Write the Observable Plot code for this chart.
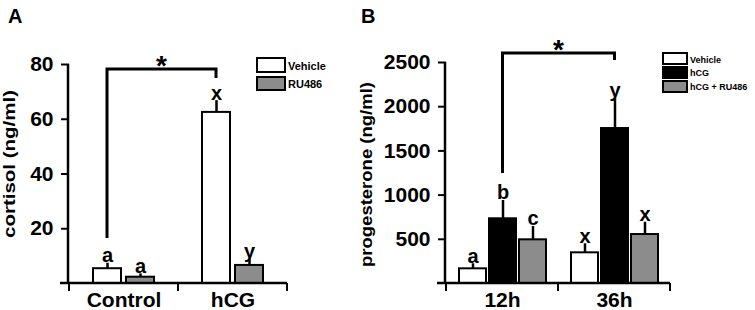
<!DOCTYPE html>
<html><head><meta charset="utf-8">
<script src="https://cdn.jsdelivr.net/npm/d3@7"></script>
<script src="https://cdn.jsdelivr.net/npm/@observablehq/plot@0.6"></script>
<style>
html,body{margin:0;padding:0;background:#fff;}
#wrap{position:relative;width:755px;height:310px;overflow:hidden;}
#wrap svg{position:absolute;top:0;overflow:visible;}
</style></head><body><div id="wrap"></div>
<script>
// ---------- Panel A data ----------
const groupsA = ["Control", "hCG"];
const seriesA = ["Vehicle", "RU486"];
const cortisolMean = [[5.4, 2.3], [62.5, 6.6]];   // [group][series]
const cortisolErr  = [[2.0, 1.2], [4.3, 2.4]];
const lettersA     = [["a", "a"], ["x", "y"]];
const yTicksA      = [20, 40, 60, 80];
const bracketA     = {left: ["Control", "Vehicle"], right: ["hCG", "Vehicle"], top: 78.2, leftEnd: 16.4, rightEnd: 74.9};

// ---------- Panel B data ----------
const groupsB = ["12h", "36h"];
const seriesB = ["Vehicle", "hCG", "hCG + RU486"];
const progMean = [[166, 732, 494], [347, 1753, 554]];
const progErr  = [[57, 207, 151], [102, 340, 139]];
const lettersB = [["a", "b", "c"], ["x", "y", "x"]];
const yTicksB  = [500, 1000, 1500, 2000, 2500];
const bracketB = {left: ["12h", "hCG"], right: ["36h", "hCG"], top: 2602, leftEnd: 1244, rightEnd: 2523};

const FONT = '"Liberation Sans", Arial, Helvetica, sans-serif';

function rows(groups, series, mean, err, letters) {
  const out = [];
  groups.forEach((g, i) => series.forEach((s, j) =>
    out.push({group: g, series: s, mean: mean[i][j], err: err[i][j], letter: letters[i][j]})));
  return out;
}

function makePanel(cfg) {
  const data = rows(cfg.groups, cfg.series, cfg.mean, cfg.err, cfg.letters);
  const plot = Plot.plot({
    width: cfg.width, height: 310,
    marginLeft: cfg.marginLeft, marginRight: cfg.marginRight, marginTop: cfg.marginTop, marginBottom: 27,
    style: {fontFamily: FONT, background: "transparent", overflow: "visible", color: "#000"},
    fx: {domain: cfg.groups, padding: 0, axis: null, label: null},
    x: {domain: cfg.series, paddingInner: cfg.padIn, paddingOuter: cfg.padOut, axis: null},
    y: {domain: cfg.yDomain, axis: null},
    color: {domain: cfg.series, range: cfg.colors},
    marks: [
      Plot.barY(data, {fx: "group", x: "series", y: "mean", fill: "series", stroke: "#000", strokeWidth: 2}),
      Plot.ruleX(data, {fx: "group", x: "series", y1: "mean", y2: d => d.mean + d.err, stroke: "#000", strokeWidth: 2.5}),
      Plot.text(data, {fx: "group", x: "series", y: d => d.mean + d.err, text: "letter", lineAnchor: "bottom", dy: -1, fontSize: 20, fontWeight: "bold", fill: "#000"}),
      Plot.axisY({ticks: cfg.yTicks, tickSize: 8, tickPadding: 8, fontSize: 21, fontWeight: "bold", label: null, strokeWidth: 2, tickFormat: d => String(d)}),
      Plot.axisFx({anchor: "bottom", tickSize: 0, tickPadding: 9, fontSize: 21, fontWeight: "bold", label: null})
    ]
  });
  plot.style.left = cfg.left + "px";
  document.getElementById("wrap").appendChild(plot);

  const svg = d3.select(plot);
  const fx = plot.scale("fx"), x = plot.scale("x"), y = plot.scale("y"), color = plot.scale("color");
  const cx = (g, s) => fx.apply(g) + (x.apply(s) - x.range[0]) + x.bandwidth / 2;
  const g = svg.append("g").attr("stroke", "#000").attr("fill", "none").attr("stroke-width", 2.5);
  const ax0 = fx.range[0], ax1 = fx.range[1], y0 = y.apply(0);
  // axis lines
  g.append("line").attr("x1", ax0).attr("x2", ax0).attr("y1", y0).attr("y2", y.apply(cfg.yDomain[1]));
  g.append("line").attr("x1", ax0 - 8).attr("x2", ax1).attr("y1", y0).attr("y2", y0);
  // boundary ticks on the x axis
  const bounds = cfg.groups.map(k => fx.apply(k)).concat([fx.apply(cfg.groups[cfg.groups.length - 1]) + fx.bandwidth]);
  bounds.forEach(b => g.append("line").attr("x1", b).attr("x2", b).attr("y1", y0).attr("y2", y0 + 8).attr("stroke-width", 2));
  // significance bracket
  const b = cfg.bracket;
  const xl = cx(...b.left), xr = cx(...b.right), yt = y.apply(b.top);
  g.append("path").attr("stroke-width", 3)
    .attr("d", `M${xl},${y.apply(b.leftEnd)}V${yt}H${xr}V${y.apply(b.rightEnd)}`);
  svg.append("text").attr("x", (xl + xr) / 2).attr("y", yt - 10 + 0.57 * 28)
    .attr("text-anchor", "middle").style("font-size", "28px").attr("font-weight", "bold")
    .attr("font-family", FONT).text("*");
  // panel letter
  svg.append("text").attr("x", cfg.panelX).attr("y", 23).attr("text-anchor", "start")
    .style("font-size", "20px").attr("font-weight", "bold").attr("font-family", FONT).text(cfg.panel);
  // y label
  svg.append("text").attr("transform", `translate(${cfg.labelX},${cfg.labelY}) rotate(-90)`)
    .attr("text-anchor", "middle").attr("dominant-baseline", "central")
    .style("font-size", "16px").attr("font-weight", "bold").attr("font-family", FONT)
    .attr("textLength", cfg.labelLen).attr("lengthAdjust", "spacingAndGlyphs").text(cfg.yLabel);
  // legend
  const lg = svg.append("g").attr("font-family", FONT).attr("font-weight", "bold").attr("text-anchor", "start");
  cfg.series.forEach((s, i) => {
    const r = cfg.legRows[i];
    lg.append("rect").attr("x", cfg.legX).attr("y", r[0]).attr("width", cfg.legW).attr("height", r[1])
      .attr("fill", color.apply(s)).attr("stroke", "#000").attr("stroke-width", 2);
    lg.append("text").attr("x", cfg.legX + cfg.legW + 3).attr("y", r[2]).attr("text-anchor", "start")
      .style("font-size", cfg.legFont + "px").text(s);
  });
}

makePanel({
  left: 0, width: 355, marginLeft: 68, marginRight: 68, marginTop: 64,
  groups: groupsA, series: seriesA, mean: cortisolMean, err: cortisolErr, letters: lettersA,
  yDomain: [0, 80], yTicks: yTicksA, padIn: 0.164, padOut: 0.716,
  colors: ["#ffffff", "#8c8c8c"], bracket: bracketA,
  panel: "A", panelX: 8, yLabel: "cortisol (ng/ml)", labelX: 9, labelY: 164, labelLen: 148,
  legX: 257, legW: 28, legFont: 11, legRows: [[58, 14, 70], [77, 13, 88]]
});
makePanel({
  left: 355, width: 400, marginLeft: 90, marginRight: 85, marginTop: 62,
  groups: groupsB, series: seriesB, mean: progMean, err: progErr, letters: lettersB,
  yDomain: [0, 2500], yTicks: yTicksB, padIn: 0.1, padOut: 0.41,
  colors: ["#ffffff", "#000000", "#8c8c8c"], bracket: bracketB,
  panel: "B", panelX: 6, yLabel: "progesterone (ng/ml)", labelX: 11, labelY: 174.5, labelLen: 185,
  legX: 308, legW: 24, legFont: 9, legRows: [[53, 11, 63], [67, 11, 76], [81, 11, 90]]
});
</script></body></html>
